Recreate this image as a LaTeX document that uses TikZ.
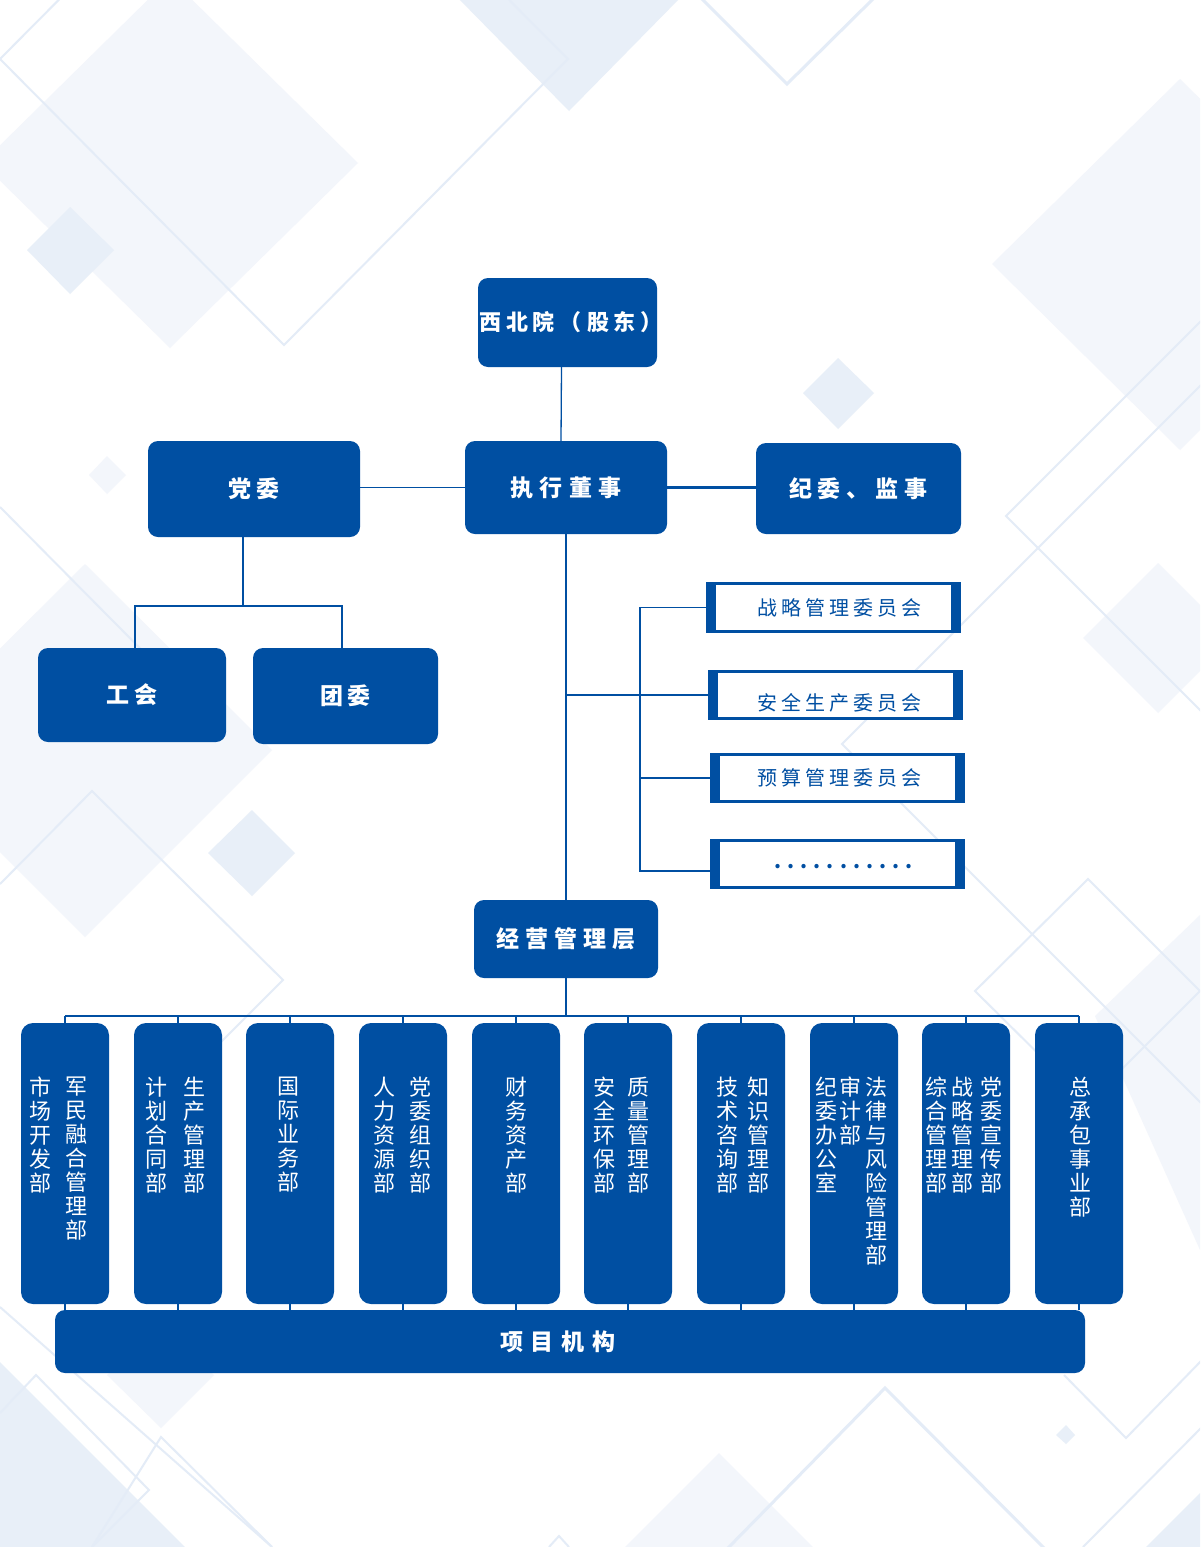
\documentclass[tikz,border=0pt]{standalone}
\usepackage{fontspec}
\newfontfamily\cjk{Noto Sans CJK SC}
\usetikzlibrary{calc}
\definecolor{mb}{HTML}{004FA2}
\definecolor{bgA}{HTML}{F3F6FB}
\definecolor{bgB}{HTML}{E8EFF8}
\definecolor{bgL}{HTML}{E4ECF7}
\pgfdeclarelayer{deco}
\pgfdeclarelayer{lines}
\pgfsetlayers{deco,lines,main}
\makeatletter
\newcommand\ltrsp[2]{\def\ltrsp@k{\kern#1}\ltrsp@a#2\relax}
\def\ltrsp@a#1{#1\ltrsp@b}
\def\ltrsp@b#1{\ifx#1\relax\else\ltrsp@k#1\expandafter\ltrsp@b\fi}
\def\vcol@a#1{\ifx#1\relax\else\hbox to 22pt{\hss#1\hss}\expandafter\vcol@a\fi}
\newcommand\vcol[1]{\vbox{\baselineskip=24pt\lineskiplimit=-\maxdimen\vcol@a#1\relax}}
\makeatother
\tikzset{
  bbox/.style={fill=mb, rounded corners=10pt, text=white, inner sep=0pt,
    font=\cjk\bfseries\fontsize{23}{26}\selectfont},
  dept/.style={fill=mb, rounded corners=12pt, minimum width=88pt, minimum height=281pt, inner sep=0pt},
  dtext/.style={text=white, inner sep=0pt, anchor=north, font=\cjk\fontsize{22}{24}\selectfont},
  comm/.style={fill=mb, minimum width=255pt, minimum height=50pt, inner sep=0pt, text=mb,
    font=\cjk\fontsize{20}{24}\selectfont,
    path picture={\fill[white] ([xshift=10pt,yshift=3pt]path picture bounding box.south west)
      rectangle ([xshift=-10pt,yshift=-3pt]path picture bounding box.north east);}},
  conn/.style={draw=mb, line width=1.3pt},
  bgline/.style={draw=bgL, line width=2pt},
}
\begin{document}
\begin{tikzpicture}[x=1pt,y=-1pt]
\useasboundingbox (0,0) rectangle (1200,1547);

% ---------- boxes ----------
\node[bbox, minimum width=179pt, minimum height=89pt, font=\cjk\bfseries\fontsize{22}{26}\selectfont] (gd) at (567.5,322.5)
  {\makebox[170pt]{\kern7pt\ltrsp{5pt}{西北院（股东）}}};
\node[bbox, minimum width=202pt, minimum height=93pt] (exec) at (566,487.5) {\ltrsp{6.5pt}{执行董事}};
\node[bbox, minimum width=212pt, minimum height=96pt] (party) at (254,489) {\ltrsp{5pt}{党委}};
\node[bbox, minimum width=205pt, minimum height=91pt] (disc) at (858.5,488.5) {\ltrsp{6pt}{纪委、监事}};
\node[bbox, minimum width=188pt, minimum height=94pt] (union) at (132,695) {\ltrsp{5pt}{工会}};
\node[bbox, minimum width=185pt, minimum height=96pt] (youth) at (345.5,696) {\ltrsp{5pt}{团委}};
\node[bbox, minimum width=184pt, minimum height=78pt] (mgmt) at (566,939) {\ltrsp{6pt}{经营管理层}};
\node[bbox, minimum width=1030pt, minimum height=63pt] (proj) at (570,1341.5) {\ltrsp{8pt}{项目机构}\kern24pt};

\node[comm, minimum height=51pt] (c1) at (833.5,607.5) {\kern12pt\ltrsp{4pt}{战略管理委员会}};
\node[comm] (c2) at (835.5,695) {\kern8pt\raisebox{-8pt}[\height][\depth]{\ltrsp{4pt}{安全生产委员会}}};
\node[comm] (c3) at (837.5,778) {\kern4pt\ltrsp{4pt}{预算管理委员会}};
\node[comm] (c4) at (837.5,864) {\kern12pt\raisebox{-3pt}[\height][\depth]{\bfseries\ltrsp{6pt}{...........}}};
\coordinate (c4in) at ([yshift=-7pt]c4.west);

\foreach \i/\x in {1/65,2/178,3/290,4/403,5/516,6/628,7/741,8/854,9/966,10/1079}
  \node[dept] (d\i) at (\x,1163.5) {};

\node[dtext] (t1a) at (40,1077) {\vcol{市场开发部}};
\node[dtext] (t1b) at (76,1077) {\vcol{军民融合管理部}};
\node[dtext] (t2a) at (156,1077) {\vcol{计划合同部}};
\node[dtext] (t2b) at (194,1077) {\vcol{生产管理部}};
\node[dtext] (t3a) at (288,1077) {\vcol{国际业务部}};
\node[dtext] (t4a) at (384,1077) {\vcol{人力资源部}};
\node[dtext] (t4b) at (420,1077) {\vcol{党委组织部}};
\node[dtext] (t5a) at (516,1077) {\vcol{财务资产部}};
\node[dtext] (t6a) at (604,1077) {\vcol{安全环保部}};
\node[dtext] (t6b) at (638,1077) {\vcol{质量管理部}};
\node[dtext] (t7a) at (727,1077) {\vcol{技术咨询部}};
\node[dtext] (t7b) at (758,1077) {\vcol{知识管理部}};
\node[dtext] (t8a) at (826,1077) {\vcol{纪委办公室}};
\node[dtext] (t8b) at (850,1077) {\vcol{审计部}};
\node[dtext] (t8c) at (876,1077) {\vcol{法律与风险管理部}};
\node[dtext] (t9a) at (936,1077) {\vcol{综合管理部}};
\node[dtext] (t9b) at (962,1077) {\vcol{战略管理部}};
\node[dtext] (t9c) at (991,1077) {\vcol{党委宣传部}};
\node[dtext] (t10a) at (1080,1077) {\vcol{总承包事业部}};

\coordinate (pj) at (243,606);
\coordinate (cv) at (640,606);
\coordinate (busy) at (566,1016);

% ---------- connectors ----------
\begin{pgfonlayer}{lines}
\draw[conn] ([xshift=-6pt]gd.south) -- ([xshift=-5pt]exec.north);
\draw[conn] (party.east |- exec.west) -- (exec.west);
\draw[conn, line width=2.2pt] (exec.east) -- (disc.west |- exec.east);
\draw[conn] (party.south -| pj) -- (pj);
\draw[conn] ([xshift=3pt]union.north) |- (pj) -| ([xshift=-3.5pt]youth.north);
\draw[conn] (exec.south) -- (mgmt.north);
\draw[conn] (exec.south |- c2.west) -- (c2.west);
\draw[conn] (c1.west) -| (c4in -| cv) -- (c4in);
\draw[conn] (c3.west -| cv) -- (c3.west);
\draw[conn] (mgmt.south) -- (mgmt.south |- busy);
\draw[conn] (d1.north |- busy) -- (d10.north |- busy);
\foreach \i in {1,...,10} {
  \draw[conn] (d\i.north |- busy) -- (d\i.north);
  \draw[conn] (d\i.south) -- (d\i.south |- proj.north);
}
\end{pgfonlayer}

% ---------- background ----------
\begin{pgfonlayer}{deco}
\fill[white] (0,0) rectangle (1200,1547);
\begin{scope}
\clip (0,0) rectangle (1200,1547);
\fill[bgA] (170,-22) -- (358,163) -- (170,348) -- (-18,163) -- cycle;
\fill[bgB] (455,-5) -- (569,111) -- (683,-5) -- cycle;
\fill[bgA] (1180,79) -- (1368,264) -- (1180,450) -- (992,264) -- cycle;
\fill[bgB] (70,207) -- (114,250) -- (70,294) -- (27,250) -- cycle;
\fill[bgA] (107,456) -- (126,475) -- (107,494) -- (89,475) -- cycle;
\fill[bgB] (838,358) -- (874,393) -- (838,429) -- (803,393) -- cycle;
\fill[bgA] (85,564) -- (272,750) -- (85,937) -- (-102,750) -- cycle;
\fill[bgB] (252,810) -- (295,853) -- (252,896) -- (208,853) -- cycle;
\fill[bgA] (1158,563) -- (1233,638) -- (1158,713) -- (1083,638) -- cycle;
\fill[bgB] (0,1362) -- (185,1547) -- (0,1547) -- cycle;
\fill[bgA] (161,1322) -- (214,1375) -- (161,1428) -- (107,1375) -- cycle;
\fill[bgA] (719,1453) -- (813,1547) -- (625,1547) -- cycle;
\fill[bgB] (1200,1493) -- (1200,1547) -- (1146,1547) -- cycle;
\fill[bgB] (1066,1425) -- (1075,1435) -- (1066,1444) -- (1056,1435) -- cycle;
\fill[bgA] (1200,915) -- (1095,1016) -- (1200,1250) -- cycle;
\draw[bgline] (0,59) -- (284,345) -- (568,59) -- (284,-227) -- cycle;
\draw[bgline, line width=3pt] (701,-2) -- (787,84) -- (874,-2);
\draw[bgline] (1202,320) -- (1006,516) -- (1202,712);
\draw[bgline] (1202,384) -- (842,744) -- (1202,1104);
\draw[bgline] (0,507) -- (226,735);
\draw[bgline] (0,884) -- (92,791) -- (283,980) -- (200,1063);
\draw[bgline] (1088,879) -- (1200,991) -- (1088,1103) -- (975,991) -- cycle;
\draw[bgline] (0,1307) -- (272,1547);
\draw[bgline] (0,1413) -- (36,1375) -- (149,1490) -- (92,1547);
\draw[bgline] (92,1547) -- (161,1437) -- (272,1547);
\draw[bgline, line width=3pt] (727,1549) -- (885,1388) -- (1045,1549);
\draw[bgline] (549,1547) -- (559,1536) -- (569,1547);
\draw[bgline] (1064,1375) -- (1126,1438) -- (1202,1360);
\draw[bgline] (1202,1427) -- (1083,1547);
\end{scope}
\end{pgfonlayer}
\end{tikzpicture}
\end{document}
